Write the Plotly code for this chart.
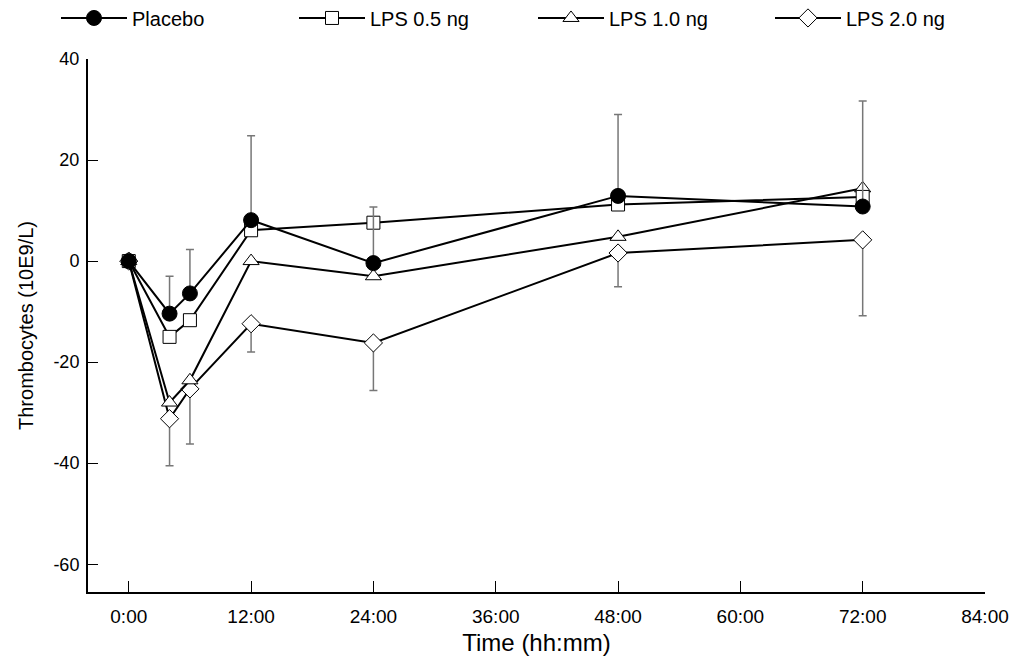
import plotly.graph_objects as go

hours = [0, 4, 6, 12, 24, 48, 72]
placebo = [0, -10.4, -6.4, 8.1, -0.4, 12.9, 10.8]
placebo_err_up = [0, 7.4, 8.7, 16.7, 11.1, 16.1, 20.9]
lps05 = [0, -15.0, -11.7, 6.1, 7.6, 11.2, 12.7]
lps10 = [0, -28.0, -23.6, 0.0, -3.0, 4.8, 14.4]
lps20 = [0, -31.2, -25.3, -12.4, -16.2, 1.6, 4.2]
lps20_err_down = [0, 9.3, 10.9, 5.6, 9.4, 6.7, 15.0]

xtick_vals = [0, 12, 24, 36, 48, 60, 72, 84]
xtick_text = ["0:00", "12:00", "24:00", "36:00", "48:00", "60:00", "72:00", "84:00"]
ytick_vals = [-60, -40, -20, 0, 20, 40]
ytick_text = ["-60", "-40", "-20", "0", "20", "40"]

zeros = [0] * len(hours)
FONT = "Liberation Sans, Arial, sans-serif"

fig = go.Figure()

def add(name, y, symbol, size, fill, legend, err=None):
    tr = dict(
        x=hours, y=y, name=name, mode="lines+markers", legend=legend,
        line=dict(color="black", width=2),
        marker=dict(symbol=symbol, size=size, color=fill,
                    line=dict(color="black", width=1)),
    )
    if err is not None:
        tr["error_y"] = err
    fig.add_trace(go.Scatter(**tr))

add("LPS 2.0 ng", lps20, "diamond", 14, "white", "legend4",
    dict(type="data", symmetric=False, array=zeros, arrayminus=lps20_err_down,
         color="#777777", thickness=1.5, width=4))
add("LPS 1.0 ng", lps10, "triangle-up", 14, "white", "legend3")
add("LPS 0.5 ng", lps05, "square", 13, "white", "legend2")
add("Placebo", placebo, "circle", 15, "black", "legend",
    dict(type="data", symmetric=False, array=placebo_err_up, arrayminus=zeros,
         color="#777777", thickness=1.5, width=4))

plot_l, plot_w = 88, 897

def leg(px):
    return dict(orientation="h", x=(px - plot_l) / plot_w, y=1.077,
                xanchor="left", yanchor="middle", itemwidth=66,
                bgcolor="rgba(0,0,0,0)", font=dict(size=20, family=FONT))

fig.update_layout(
    width=1013, height=660,
    margin=dict(l=88, r=28, t=59, b=68, autoexpand=False),
    plot_bgcolor="white", paper_bgcolor="white",
    font=dict(family=FONT, size=18, color="black"),
    showlegend=True,
    legend=leg(56), legend2=leg(294), legend3=leg(533), legend4=leg(770),
    xaxis=dict(range=[-4, 84], tickvals=xtick_vals, ticktext=xtick_text,
               ticks="inside", ticklen=11, tickwidth=1, tickcolor="black",
               showline=True, linecolor="black", linewidth=2,
               showgrid=False, zeroline=False, automargin=True,
               ticklabeloverflow="allow",
               ticklabelstandoff=6, tickfont=dict(size=19),
               title=dict(text="Time (hh:mm)", font=dict(size=24), standoff=8)),
    yaxis=dict(range=[-65.5, 40], tickvals=ytick_vals, ticktext=ytick_text,
               ticks="inside", ticklen=10, tickwidth=1, tickcolor="black",
               showline=True, linecolor="black", linewidth=2,
               showgrid=False, zeroline=False, automargin=True,
               ticklabelstandoff=3, tickfont=dict(size=18),
               title=dict(text="Thrombocytes (10E9/L)", font=dict(size=20), standoff=14)),
)

fig.write_html("out.html",
               config={"displayModeBar": False},
               post_script="document.body.style.margin='0';document.body.style.overflow='hidden';")
